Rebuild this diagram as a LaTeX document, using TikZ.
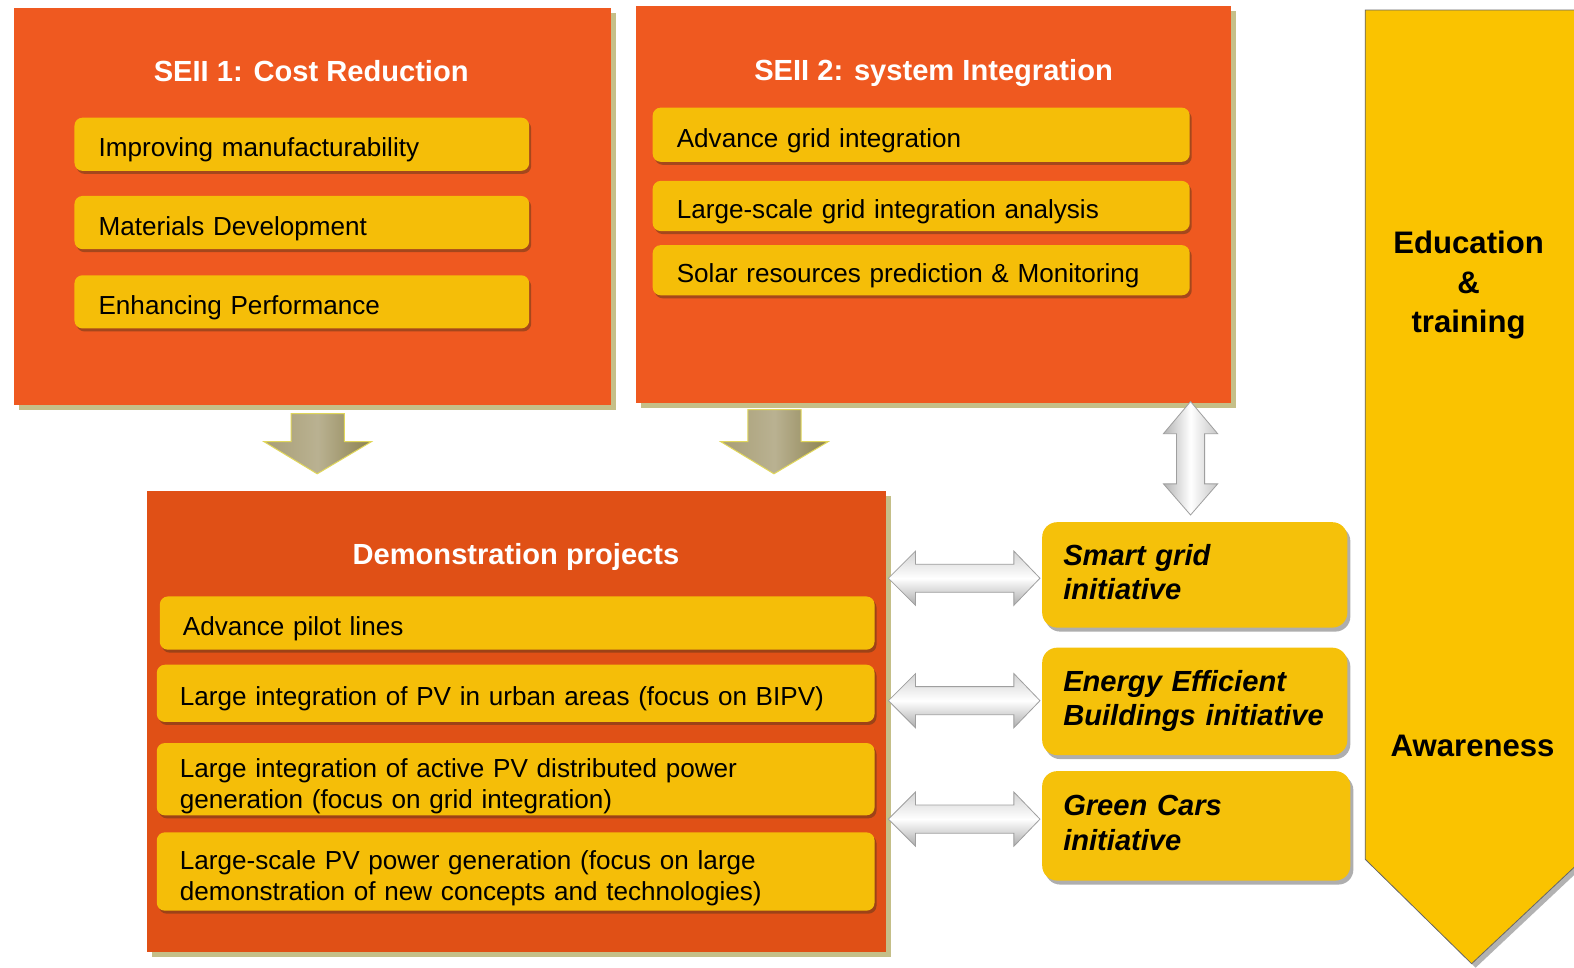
\documentclass[tikz,border=0pt]{standalone}
\usepackage{fontspec}
\setmainfont{Liberation Sans}
\usetikzlibrary{shadows,calc}
\definecolor{orangeA}{RGB}{239,89,32}
\definecolor{orangeB}{RGB}{224,80,22}
\definecolor{itemY}{RGB}{245,190,8}
\definecolor{initY}{RGB}{245,193,10}
\definecolor{chevY}{RGB}{250,195,0}
\definecolor{glowC}{RGB}{150,140,40}
\definecolor{arrOl}{RGB}{168,158,118}
\definecolor{arrOlD}{RGB}{140,130,80}
\definecolor{arrHi}{RGB}{225,215,90}
\newcommand\myfs[2]{\fontsize{#1}{#2}\selectfont}
\newcommand\firstup{\rule{0pt}{33pt}}
\newcommand\lastdown{\rule[-6pt]{0pt}{0pt}}
\begin{document}
\begin{tikzpicture}[x=1pt,y=-1pt,scale=1.0038,
  every node/.append style={transform shape},
  bigbox/.style={anchor=north west, inner sep=0pt, draw=none,
    drop shadow={shadow xshift=5pt, shadow yshift=-5pt, fill=glowC, opacity=0.55}},
  titletext/.style={text=white, font=\myfs{29}{34}\bfseries, inner sep=0pt, anchor=base},
  itembox/.style={anchor=north west, rounded corners=8pt, fill=itemY, inner xsep=24pt, inner ysep=0pt,
    align=left, font=\myfs{26}{31}\selectfont, text height=25pt, text depth=0pt,
    drop shadow={shadow xshift=2pt, shadow yshift=-3pt, fill=black!60!brown, opacity=0.45}},
  itembox2/.style={itembox, text height={}, text depth={}},
  initbox/.style={anchor=north west, rounded corners=15pt, fill=initY, inner xsep=21pt, inner ysep=0pt,
    align=left, font=\myfs{29}{34}\bfseries\itshape,
    drop shadow={shadow xshift=3pt, shadow yshift=-4pt, fill=black!70, opacity=0.45}},
  chevtext/.style={font=\myfs{31}{39}\bfseries, align=center, inner sep=0pt},
  downarr/.style={draw=arrHi, line width=1pt, left color=arrOl, right color=arrOlD, middle color=arrOl!80!white},
  dblarrh/.style={draw=gray!75, line width=0.8pt, top color=gray!35, bottom color=gray!65, middle color=white},
  dblarrv/.style={draw=gray!75, line width=0.8pt, left color=gray!60, right color=gray!45, middle color=white}
]
\useasboundingbox (0,0) rectangle (1568,964);
\fill[white] (0,0) rectangle (1568,964);

% right chevron
\begin{scope}
\clip (0,0) rectangle (1568,964);
\path[fill=chevY, draw=black!60, line width=0.8pt,
  drop shadow={shadow xshift=4pt, shadow yshift=-4pt, fill=black!60, opacity=0.5}]
  (1360,10) -- (1600,10) -- (1600,834) -- (1466,960) -- (1360,856) -- cycle;
\end{scope}
\node[chevtext] (edu) at (1463,284) {Education\\\&\\training};
\node[chevtext] (aware) at (1467,743) {Awareness};

% SEII 1
\node[bigbox, fill=orangeA, minimum width=594pt, minimum height=395pt] (b1) at (14,8) {};
\node[titletext] (t1) at (310,81) {SEII 1: Cost Reduction};
\node[itembox, minimum height=53pt, text width=405pt] (i11) at (74,117) {Improving manufacturability};
\node[itembox, minimum height=53pt, text width=405pt] (i12) at (74,195) {Materials Development};
\node[itembox, minimum height=53pt, text width=405pt] (i13) at (74,274) {Enhancing Performance};

% SEII 2
\node[bigbox, fill=orangeA, minimum width=593pt, minimum height=395pt] (b2) at (633,6) {};
\node[titletext] (t2) at (930,80) {SEII 2: system Integration};
\node[itembox, minimum height=54pt, text width=487pt] (i21) at (650,107) {Advance grid integration};
\node[itembox, minimum height=50pt, text width=487pt] (i22) at (650,180) {Large-scale grid integration analysis};
\node[itembox, minimum height=50pt, text width=487pt] (i23) at (650,244) {Solar resources prediction \& Monitoring};

% Demonstration
\node[bigbox, fill=orangeB, minimum width=736pt, minimum height=459pt] (b3) at (146,489) {};
\node[titletext] (t3) at (514,562) {Demonstration projects};
\node[itembox, minimum height=53pt, text width=666pt, inner xsep=23pt] (d1) at (159,594) {Advance pilot lines};
\node[itembox, minimum height=57pt, text width=669pt, inner xsep=23pt] (d2) at (156,662) {Large integration of PV in urban areas (focus on BIPV)};
\node[itembox2, minimum height=72pt, text width=669pt, inner xsep=23pt] (d3) at (156,740) {\firstup Large integration of active PV distributed power\\generation (focus on grid integration)};
\node[itembox2, minimum height=78pt, text width=669pt, inner xsep=23pt] (d4) at (156,829) {\firstup Large-scale PV power generation (focus on large\\demonstration of new concepts and technologies)};

% initiatives
\node[initbox, minimum height=105pt, text width=262pt] (s1) at (1038,520) {Smart grid\\initiative\lastdown};
\node[initbox, minimum height=107pt, text width=262pt] (s2) at (1038,645) {Energy Efficient\\Buildings initiative\lastdown};
\node[initbox, minimum height=109pt, text width=265pt] (s3) at (1038,768) {Green Cars\\initiative\lastdown};

% down arrows
\path[downarr] (290,412) -- (343,412) -- (343,440) -- (370,440) -- (316,472) -- (263,440) -- (290,440) -- cycle;
\path[downarr] (745,408) -- (798,408) -- (798,440) -- (825,440) -- (771,472) -- (718,440) -- (745,440) -- cycle;

% vertical double arrow
\path[dblarrv] (1186,400) -- (1213,432) -- (1200,432) -- (1200,482) -- (1213,482) -- (1186,513)
  -- (1159,482) -- (1172,482) -- (1172,432) -- (1159,432) -- cycle;

% horizontal double arrows
\foreach \yy/\nm in {576/h1, 698/h2, 816/h3}{
  \path[dblarrh] (885,\yy) -- (912,\yy-27) -- (912,\yy-14) -- (1010,\yy-14) -- (1010,\yy-27) -- (1036,\yy)
    -- (1010,\yy+27) -- (1010,\yy+14) -- (912,\yy+14) -- (912,\yy+27) -- cycle;
}
\end{tikzpicture}
\end{document}
